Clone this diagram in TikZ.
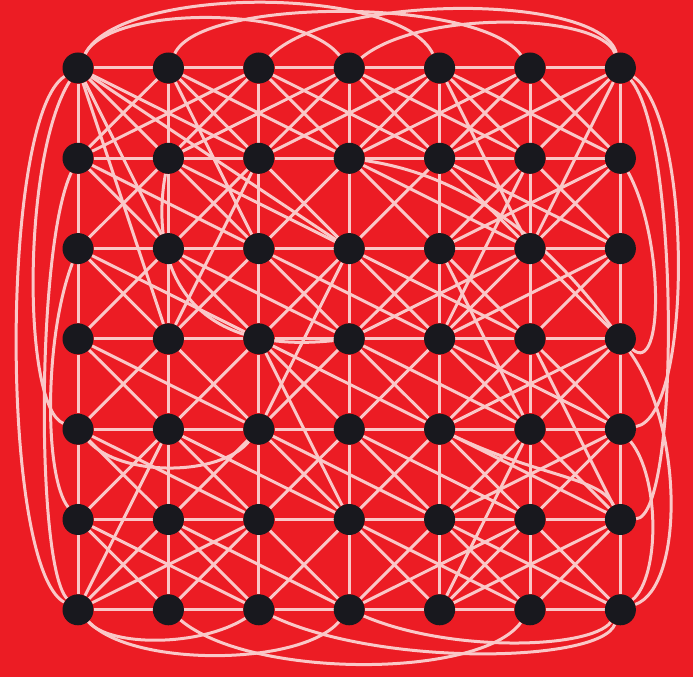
\documentclass[tikz,border=0pt]{standalone}
\definecolor{bgred}{RGB}{236,28,36}
\definecolor{edgew}{RGB}{250,200,200}
\definecolor{dot}{RGB}{24,24,30}
\pgfdeclarelayer{bgl}
\pgfdeclarelayer{edgel}
\pgfsetlayers{bgl,edgel,main}
\begin{document}
\begin{tikzpicture}[x=1pt,y=1pt,
  vtx/.style={circle,fill=dot,minimum size=31pt,inner sep=0pt},
  link/.style={draw=edgew,line width=3pt}]
\begin{pgfonlayer}{bgl}
\fill[bgred] (0,0) rectangle (693,677);
\end{pgfonlayer}
\useasboundingbox (0,0) rectangle (693,677);
\foreach \c in {0,...,6}{
  \foreach \r in {0,...,6}{
    \node[vtx] (n\c\r) at ({78+90.4*\c},{609-90.3*\r}) {};
  }
}
\begin{pgfonlayer}{edgel}
% grid
\foreach \c [evaluate=\c as \d using int(\c+1)] in {0,...,5}{
  \foreach \r in {0,...,6}{
    \draw[link] (n\c\r) -- (n\d\r);
    \draw[link] (n\r\c) -- (n\r\d);
  }
}
% cell diagonals
\foreach \c [evaluate=\c as \d using int(\c+1)] in {0,...,5}{
  \foreach \r [evaluate=\r as \s using int(\r+1)] in {0,...,5}{
    \draw[link] (n\c\r) -- (n\d\s);
    \draw[link] (n\d\r) -- (n\c\s);
  }
}
% longer straight links
\foreach \a/\b in {00/12,00/21,00/13,00/32,10/31,20/01,20/41,30/11,30/51,40/61,40/21,50/31,60/41,60/52,
  01/22,11/32,41/62,61/42,31/52,02/23,12/33,22/43,32/53,62/43,52/33,
  03/24,23/44,33/54,43/64,63/44,04/25,14/35,34/55,44/65,64/45,24/45,
  05/26,15/36,25/06,35/56,45/66,65/46,55/36,
  10/22,21/13,51/43,42/54,53/65,23/35,14/06,54/46,40/52,32/24}{
  \draw[link] (n\a) -- (n\b);
}
% outer arcs
\draw[link] (n00) .. controls (110,672) and (300,672) .. (n30);
\draw[link] (n00) .. controls (120,692) and (400,692) .. (n40);
\draw[link] (n10) .. controls (200,680) and (480,680) .. (n50);
\draw[link] (n20) .. controls (330,684) and (600,684) .. (n60);
\draw[link] (n30) .. controls (420,668) and (600,664) .. (n60);
\draw[link] (n00) .. controls (0,560) and (0,110) .. (n06);
\draw[link] (n00) .. controls (22,520) and (22,270) .. (n04);
\draw[link] (n01) .. controls (36,430) and (36,110) .. (n06);
\draw[link] (n02) .. controls (44,340) and (44,200) .. (n05);
\draw[link] (n60) .. controls (693,560) and (693,260) .. (n64);
\draw[link] (n60) .. controls (680,540) and (680,160) .. (n65);
\draw[link] (n61) .. controls (664,440) and (664,300) .. (n63);
\draw[link] (n63) .. controls (684,250) and (684,90) .. (n66);
\draw[link] (n64) .. controls (660,200) and (660,100) .. (n66);
\draw[link] (n06) .. controls (130,10) and (300,10) .. (n36);
\draw[link] (n16) .. controls (250,-2) and (480,-2) .. (n56);
\draw[link] (n26) .. controls (380,10) and (600,14) .. (n66);
\draw[link] (n36) .. controls (450,24) and (590,28) .. (n66);
\draw[link] (n06) .. controls (110,30) and (200,30) .. (n26);
% inner arcs
\draw[link] (n04) .. controls (120,200) and (220,200) .. (n24);
\draw[link] (n31) .. controls (480,500) and (560,420) .. (n63);
\draw[link] (n11) .. controls (150,420) and (180,320) .. (n33);
\draw[link] (n44) .. controls (540,200) and (600,200) .. (n65);
\end{pgfonlayer}
\end{tikzpicture}
\end{document}
